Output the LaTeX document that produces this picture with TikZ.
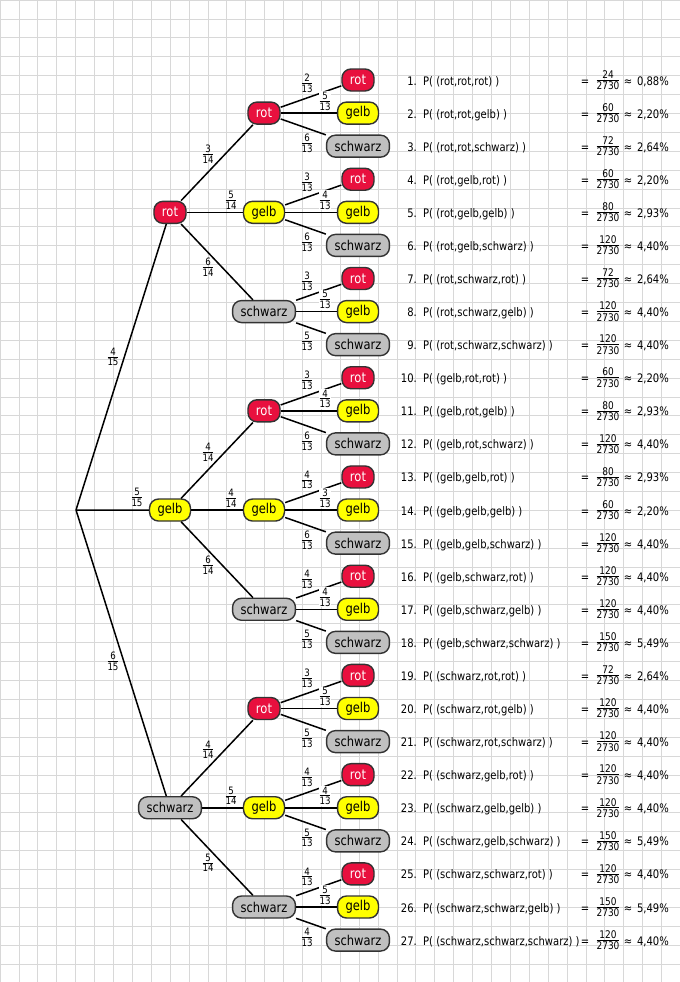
\documentclass[tikz,border=0pt]{standalone}
\usepackage{fontspec}
\setmainfont{DejaVu Sans}[FakeStretch=0.85]
\definecolor{myred}{RGB}{232,16,62}
\definecolor{myyellow}{RGB}{255,255,0}
\definecolor{mygray}{RGB}{192,192,192}
\definecolor{gridc}{RGB}{216,216,216}
\newcommand\cname[1]{\ifcase#1\or rot\or gelb\or schwarz\fi}
\newcommand\fr[2]{\ensuremath{\vcenter{\offinterlineskip\halign{\hfil##\hfil\cr #1\cr\noalign{\kern1.3bp\hrule height0.6bp\kern1.3bp}#2\cr}}}}
\tikzset{
 box/.style={draw=black!80, line width=1.4bp, rounded corners=9bp, minimum height=22bp, inner xsep=8bp, inner ysep=0bp, font=\fontsize{13.6}{15}\selectfont},
 c1/.style={fill=myred,text=white},
 c2/.style={fill=myyellow},
 c3/.style={fill=mygray},
 edge/.style={line width=1.5bp, black},
 plab/.style={inner sep=0.8bp, font=\fontsize{10.2}{11}\selectfont},
 plabw/.style={plab, fill=white},
 lst/.style={inner sep=0pt, font=\fontsize{11.8}{13}\selectfont},
 rfr/.style={inner sep=0pt, font=\fontsize{10.6}{12}\selectfont},
 gridline/.style={gridc, line width=0.8bp},
}
\begin{document}
\begin{tikzpicture}[x=1bp,y=-1bp]
\useasboundingbox (0,0) rectangle (680,982);
\fill[white] (0,0) rectangle (680,982);
\foreach \i in {0,...,36} \draw[gridline] (\i*18.9,0) -- (\i*18.9,982);
\foreach \j in {0,...,52} \draw[gridline] (0,\j*18.9) -- (680,\j*18.9);
% nodes
\coordinate (r) at (76,510);
\foreach \a in {1,2,3}{
  \node[box,c\a] (n\a) at (170,{80+33.08*(9*\a-5)}) {\cname{\a}};
  \foreach \b in {1,2,3}{
    \node[box,c\b] (n\a\b) at (264,{80+33.08*(9*\a+3*\b-11)}) {\cname{\b}};
    \foreach \c in {1,2,3}{
      \node[box,c\c] (n\a\b\c) at (358,{80+33.08*(9*\a+3*\b+\c-13)}) {\cname{\c}};
    }
  }
}
% edges
\foreach \a in {1,2,3}{
  \draw[edge] (r) -- (n\a);
  \foreach \b in {1,2,3}{
    \draw[edge] (n\a) -- (n\a\b);
    \foreach \c in {1,2,3}{ \draw[edge] (n\a\b) -- (n\a\b\c); }
  }
}
% level 1 labels
\node[plab] (p1) at (113,357) {\fr{4}{15}};
\node[plab] (p2) at (137,497) {\fr{5}{15}};
\node[plab] (p3) at (113,661) {\fr{6}{15}};
% level 2 labels
\foreach \a/\x/\y/\z in {1/3/5/6, 2/4/4/6, 3/4/5/5}{
  \node[plab] (p\a1) at (208,{80+33.08*(9*\a-5)-58}) {\fr{\x}{14}};
  \node[plab] (p\a2) at (231,{80+33.08*(9*\a-5)-12}) {\fr{\y}{14}};
  \node[plab] (p\a3) at (208,{80+33.08*(9*\a-5)+55}) {\fr{\z}{14}};
}
% level 3 labels
\foreach \a/\b/\x/\y/\z in {1/1/2/5/6, 1/2/3/4/6, 1/3/3/5/5, 2/1/3/4/6, 2/2/4/3/6, 2/3/4/4/5, 3/1/3/5/5, 3/2/4/4/5, 3/3/4/5/4}{
  \node[plab] (p\a\b1) at (307,{80+33.08*(9*\a+3*\b-12)+3}) {\fr{\x}{13}};
  \node[plabw] (p\a\b2) at (325,{80+33.08*(9*\a+3*\b-11)-12}) {\fr{\y}{13}};
  \node[plab] (p\a\b3) at (307,{80+33.08*(9*\a+3*\b-10)-3}) {\fr{\z}{13}};
}
% result list
\foreach \ri/\rt/\rn/\rp in {
 1/{rot,rot,rot}/24/{0,88},
 2/{rot,rot,gelb}/60/{2,20},
 3/{rot,rot,schwarz}/72/{2,64},
 4/{rot,gelb,rot}/60/{2,20},
 5/{rot,gelb,gelb}/80/{2,93},
 6/{rot,gelb,schwarz}/120/{4,40},
 7/{rot,schwarz,rot}/72/{2,64},
 8/{rot,schwarz,gelb}/120/{4,40},
 9/{rot,schwarz,schwarz}/120/{4,40},
 10/{gelb,rot,rot}/60/{2,20},
 11/{gelb,rot,gelb}/80/{2,93},
 12/{gelb,rot,schwarz}/120/{4,40},
 13/{gelb,gelb,rot}/80/{2,93},
 14/{gelb,gelb,gelb}/60/{2,20},
 15/{gelb,gelb,schwarz}/120/{4,40},
 16/{gelb,schwarz,rot}/120/{4,40},
 17/{gelb,schwarz,gelb}/120/{4,40},
 18/{gelb,schwarz,schwarz}/150/{5,49},
 19/{schwarz,rot,rot}/72/{2,64},
 20/{schwarz,rot,gelb}/120/{4,40},
 21/{schwarz,rot,schwarz}/120/{4,40},
 22/{schwarz,gelb,rot}/120/{4,40},
 23/{schwarz,gelb,gelb}/120/{4,40},
 24/{schwarz,gelb,schwarz}/150/{5,49},
 25/{schwarz,schwarz,rot}/120/{4,40},
 26/{schwarz,schwarz,gelb}/150/{5,49},
 27/{schwarz,schwarz,schwarz}/120/{4,40}}{
  \node[lst,anchor=base east] (k\ri) at (417,{80+33.08*(\ri-1)+5}) {\ri.};
  \node[lst,anchor=base west] (t\ri) at (423,{80+33.08*(\ri-1)+5}) {P( (\rt) )};
  \node[lst,anchor=base] (e\ri) at (585,{80+33.08*(\ri-1)+5}) {=};
  \node[rfr] (f\ri) at (608,{80+33.08*(\ri-1)}) {\fr{\rn}{2730}};
  \node[lst,anchor=base] (a\ri) at (628,{80+33.08*(\ri-1)+5}) {≈};
  \node[lst,anchor=base east] (q\ri) at (669,{80+33.08*(\ri-1)+5}) {\rp\%};
}
\end{tikzpicture}
\end{document}
